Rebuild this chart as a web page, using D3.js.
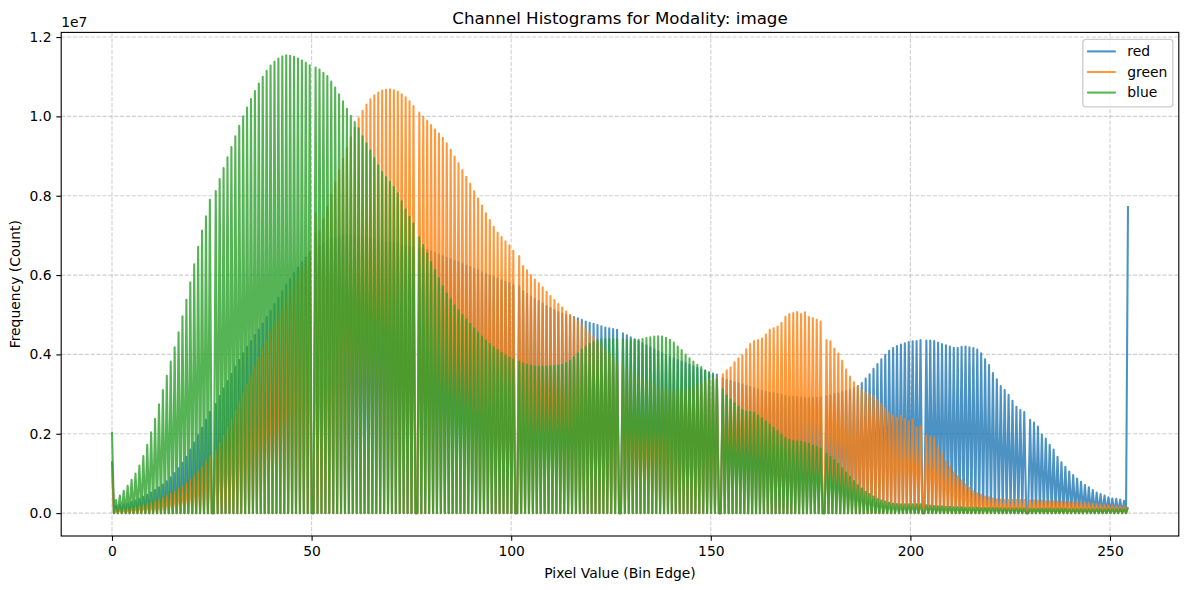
<!DOCTYPE html>
<html>
<head>
<meta charset="utf-8">
<script src="https://cdn.jsdelivr.net/npm/d3@7"></script>
<style>
body { margin: 0; background: #fff; }
svg text { font-family: "DejaVu Sans", sans-serif; fill: #000; }
</style>
</head>
<body>
<div id="svgDiv"></div>
<script>
//channel info
var channelNames = ["red", "green", "blue"];
var channelColors = ["#1f77b4", "#ff7f0e", "#2ca02c"];

// counts per pixel value 0..255, in millions
var redCounts = [
    1.31, 0.18, 0.2, 0.22, 0.25, 0.28, 0.32, 0.36, 0.41, 0.46, 0.52, 0.58, 0.65, 0.72, 0.8, 0.9,
    1.01, 1.13, 1.27, 1.42, 1.6, 1.78, 1.96, 2.15, 2.35, 2.55, 2.75, 2.95, 3.14, 3.33, 3.51, 3.69,
    3.86, 4.03, 4.19, 4.34, 4.49, 4.63, 4.78, 4.94, 5.1, 5.27, 5.43, 5.59, 5.75, 5.9, 6.05, 6.19,
    6.32, 6.44, 6.55, 7.05, 6.72, 6.79, 6.85, 6.9, 6.94, 6.97, 6.99, 7.0, 7.0, 6.99, 6.98, 6.96,
    6.94, 6.92, 6.9, 6.88, 6.86, 6.84, 6.82, 6.8, 6.78, 6.76, 6.74, 6.72, 6.7, 6.68, 6.66, 6.64,
    6.6, 6.56, 6.52, 6.48, 6.44, 6.4, 6.36, 6.32, 6.28, 6.24, 6.2, 6.16, 6.12, 6.07, 6.03, 5.99,
    5.95, 5.91, 5.87, 5.83, 5.79, 5.74, 5.72, 5.6, 5.53, 5.46, 5.4, 5.34, 5.28, 5.22, 5.17, 5.12,
    5.07, 5.03, 4.99, 4.96, 4.94, 4.91, 4.87, 4.83, 4.8, 4.77, 4.74, 4.71, 4.68, 4.66, 4.64, 4.62,
    4.53, 4.48, 4.43, 4.38, 4.33, 4.28, 4.23, 4.18, 4.13, 4.08, 4.03, 3.98, 3.94, 3.9, 3.86, 3.82,
    3.78, 3.74, 3.7, 3.66, 3.62, 3.58, 3.55, 3.52, 3.49, 3.4, 3.36, 3.33, 3.3, 3.27, 3.24, 3.21,
    3.18, 3.15, 3.12, 3.09, 3.06, 3.04, 3.02, 3.0, 2.98, 2.96, 2.94, 2.93, 2.92, 2.91, 2.9, 2.9,
    2.9, 2.9, 2.91, 2.94, 2.97, 3.0, 3.02, 3.05, 3.08, 3.11, 3.15, 3.2, 3.28, 3.39, 3.5, 3.64,
    3.76, 3.88, 3.99, 4.09, 4.16, 4.21, 4.25, 4.28, 4.31, 4.33, 4.34, 4.36, 4.35, 4.35, 4.34, 4.3,
    4.26, 4.23, 4.2, 4.17, 4.17, 4.19, 4.2, 4.18, 4.16, 4.12, 4.03, 3.88, 3.73, 3.53, 3.37, 3.2,
    3.1, 2.98, 2.83, 2.68, 2.6, 2.55, 2.35, 2.28, 2.18, 1.98, 1.88, 1.72, 1.6, 1.42, 1.28, 1.17,
    1.05, 0.96, 0.87, 0.79, 0.71, 0.65, 0.58, 0.52, 0.48, 0.44, 0.4, 0.37, 0.36, 0.34, 0.31, 7.74
];
var greenCounts = [
    1.1, 0.08, 0.09, 0.1, 0.11, 0.13, 0.15, 0.17, 0.2, 0.23, 0.26, 0.3, 0.34, 0.38, 0.43, 0.48,
    0.54, 0.6, 0.67, 0.75, 0.84, 0.94, 1.05, 1.17, 1.3, 1.43, 1.58, 1.76, 1.95, 2.15, 2.36, 2.58,
    2.8, 3.02, 3.24, 3.46, 3.68, 3.9, 4.12, 4.34, 4.56, 4.77, 4.98, 5.19, 5.4, 5.6, 5.8, 6.0,
    6.2, 6.4, 6.6, 7.56, 7.1, 7.4, 7.72, 8.03, 8.34, 8.64, 8.93, 9.2, 9.47, 9.72, 9.95, 10.14,
    10.3, 10.43, 10.53, 10.6, 10.65, 10.67, 10.68, 10.66, 10.62, 10.56, 10.48, 10.38, 10.26, 10.1, 9.99, 9.89,
    9.78, 9.67, 9.57, 9.46, 9.32, 9.16, 8.99, 8.82, 8.65, 8.48, 8.3, 8.11, 7.93, 7.75, 7.56, 7.39,
    7.22, 7.07, 6.96, 6.85, 6.75, 6.61, 6.48, 6.23, 6.12, 6.0, 5.89, 5.79, 5.69, 5.58, 5.47, 5.37,
    5.27, 5.18, 5.08, 5.0, 4.92, 4.84, 4.76, 4.66, 4.55, 4.44, 4.33, 4.22, 4.12, 4.02, 3.93, 3.84,
    3.75, 3.66, 3.58, 3.5, 3.43, 3.37, 3.31, 3.26, 3.21, 3.17, 3.13, 3.1, 3.08, 3.07, 3.07, 3.08,
    3.1, 3.13, 3.17, 3.21, 3.26, 3.31, 3.35, 3.39, 3.42, 3.5, 3.6, 3.67, 3.8, 3.9, 3.98, 4.13,
    4.26, 4.34, 4.36, 4.4, 4.5, 4.62, 4.66, 4.7, 4.8, 4.95, 5.02, 5.04, 5.07, 5.02, 5.06, 4.94,
    4.91, 4.87, 4.83, 4.36, 4.33, 4.15, 4.02, 3.84, 3.62, 3.44, 3.3, 3.2, 3.1, 3.05, 2.98, 2.95,
    2.86, 2.75, 2.64, 2.52, 2.45, 2.4, 2.45, 2.38, 2.3, 2.36, 2.16, 2.19, 1.95, 1.92, 1.9, 1.65,
    1.5, 1.3, 1.17, 1.02, 0.92, 0.82, 0.72, 0.63, 0.55, 0.5, 0.46, 0.42, 0.4, 0.37, 0.35, 0.34,
    0.33, 0.33, 0.33, 0.33, 0.33, 0.33, 0.32, 0.32, 0.31, 0.31, 0.3, 0.3, 0.3, 0.29, 0.29, 0.28,
    0.28, 0.27, 0.27, 0.26, 0.26, 0.25, 0.24, 0.23, 0.22, 0.21, 0.2, 0.19, 0.18, 0.17, 0.16, 0.15
];
var blueCounts = [
    2.05, 0.33, 0.44, 0.56, 0.69, 0.84, 1.0, 1.2, 1.44, 1.72, 2.04, 2.38, 2.74, 3.1, 3.46, 3.82,
    4.18, 4.56, 4.96, 5.38, 5.82, 6.27, 6.71, 7.12, 7.48, 7.9, 8.12, 8.42, 8.7, 8.97, 9.23, 9.5,
    9.76, 10.0, 10.22, 10.44, 10.64, 10.83, 11.0, 11.15, 11.28, 11.38, 11.46, 11.51, 11.54, 11.53, 11.5, 11.46,
    11.41, 11.35, 11.29, 11.23, 11.18, 11.1, 11.02, 10.88, 10.73, 10.56, 10.38, 10.19, 10.01, 9.86, 9.7, 9.5,
    9.32, 9.14, 8.95, 8.77, 8.6, 8.47, 8.35, 8.22, 8.06, 7.86, 7.65, 7.47, 7.3, 6.95, 6.76, 6.55,
    6.33, 6.13, 5.92, 5.72, 5.54, 5.39, 5.24, 5.11, 4.99, 4.88, 4.77, 4.66, 4.55, 4.45, 4.35, 4.26,
    4.18, 4.11, 4.04, 3.98, 3.92, 3.87, 3.82, 3.77, 3.74, 3.72, 3.7, 3.69, 3.69, 3.69, 3.7, 3.71,
    3.72, 3.74, 3.78, 3.84, 3.93, 4.03, 4.12, 4.2, 4.27, 4.32, 4.36, 4.38, 4.39, 4.39, 4.39, 4.39,
    4.38, 4.37, 4.36, 4.36, 4.37, 4.39, 4.41, 4.43, 4.45, 4.46, 4.45, 4.42, 4.37, 4.3, 4.2, 4.11,
    4.0, 3.9, 3.82, 3.74, 3.68, 3.6, 3.54, 3.47, 3.38, 3.12, 2.97, 2.87, 2.77, 2.68, 2.6, 2.56,
    2.55, 2.53, 2.46, 2.39, 2.31, 2.23, 2.15, 2.07, 1.98, 1.9, 1.85, 1.82, 1.81, 1.8, 1.78, 1.75,
    1.71, 1.67, 1.63, 1.5, 1.42, 1.34, 1.24, 1.13, 1.02, 0.92, 0.81, 0.71, 0.62, 0.54, 0.48, 0.42,
    0.36, 0.32, 0.29, 0.26, 0.24, 0.23, 0.22, 0.22, 0.22, 0.22, 0.22, 0.22, 0.2, 0.19, 0.18, 0.17,
    0.17, 0.16, 0.16, 0.15, 0.15, 0.15, 0.14, 0.14, 0.14, 0.14, 0.13, 0.13, 0.13, 0.13, 0.13, 0.12,
    0.12, 0.12, 0.12, 0.12, 0.12, 0.12, 0.11, 0.11, 0.11, 0.11, 0.11, 0.11, 0.11, 0.11, 0.11, 0.11,
    0.1, 0.1, 0.1, 0.1, 0.1, 0.1, 0.1, 0.1, 0.1, 0.1, 0.1, 0.1, 0.1, 0.1, 0.1, 0.14
];

var numBins = 520;   // histogram bins over 0..255
var xTicks = [0, 50, 100, 150, 200, 250];
var yTicks = [0, 2e6, 4e6, 6e6, 8e6, 10e6, 12e6];

var svgWidth = 1189, svgHeight = 590;
var plotLeft = 61.2, plotRight = 1178.8, plotTop = 32.4, plotBottom = 536;
var pt = 100 / 72;   // matplotlib points -> px

// puts every pixel value into its bin, empty bins stay at zero
function buildHistogram(counts) {
    var hist = new Array(numBins).fill(0);
    counts.forEach(function(c, v) {
        var b = Math.min(Math.floor(v * numBins / 255), numBins - 1);
        hist[b] += c * 1e6;
    });
    return hist.map(function(h, i) {
        return { x: i * 255 / numBins, y: h };
    });
}

var series = [redCounts, greenCounts, blueCounts].map(buildHistogram);

var xMin = d3.min(series[0], d => d.x), xMax = d3.max(series[0], d => d.x);
var yMin = 0, yMax = d3.max(series, s => d3.max(s, d => d.y));
var xPad = (xMax - xMin) * 0.05, yPad = (yMax - yMin) * 0.05;

var xScale = d3.scaleLinear()
    .domain([xMin - xPad, xMax + xPad])
    .range([plotLeft, plotRight]);
var yScale = d3.scaleLinear()
    .domain([yMin - yPad, yMax + yPad])
    .range([plotBottom, plotTop]);

var svg = d3.select("#svgDiv")
    .append("svg")
    .attr("width", svgWidth)
    .attr("height", svgHeight);

svg.append("defs").append("clipPath")
    .attr("id", "plotClip")
    .append("rect")
    .attr("x", plotLeft).attr("y", plotTop)
    .attr("width", plotRight - plotLeft)
    .attr("height", plotBottom - plotTop);

//grid
var grid = svg.append("g")
    .attr("stroke", "#b0b0b0")
    .attr("stroke-opacity", 0.6)
    .attr("stroke-width", 0.8 * pt)
    .attr("stroke-dasharray", (2.96 * pt) + "," + (1.28 * pt));
grid.selectAll(".vgrid").data(xTicks).enter().append("line")
    .attr("x1", d => xScale(d)).attr("x2", d => xScale(d))
    .attr("y1", plotTop).attr("y2", plotBottom);
grid.selectAll(".hgrid").data(yTicks).enter().append("line")
    .attr("y1", d => yScale(d)).attr("y2", d => yScale(d))
    .attr("x1", plotLeft).attr("x2", plotRight);

//histogram lines
var line = d3.line()
    .x(d => xScale(d.x))
    .y(d => yScale(d.y));

svg.append("g")
    .attr("clip-path", "url(#plotClip)")
    .selectAll("path")
    .data(series)
    .enter().append("path")
    .attr("d", line)
    .attr("fill", "none")
    .attr("stroke", (d, i) => channelColors[i])
    .attr("stroke-opacity", 0.8)
    .attr("stroke-width", 1.5 * pt)
    .attr("stroke-linejoin", "round");

//axes
var xAxis = d3.axisBottom(xScale)
    .tickValues(xTicks)
    .tickSize(3.5 * pt)
    .tickPadding(3.5 * pt)
    .tickFormat(d3.format("d"));
var yAxis = d3.axisLeft(yScale)
    .tickValues(yTicks)
    .tickSize(3.5 * pt)
    .tickPadding(3.5 * pt)
    .tickFormat(d => (d / 1e7).toFixed(1));

var gx = svg.append("g")
    .attr("transform", "translate(0," + plotBottom + ")")
    .call(xAxis);
var gy = svg.append("g")
    .attr("transform", "translate(" + plotLeft + ",0)")
    .call(yAxis);
[gx, gy].forEach(function(g) {
    g.select(".domain").remove();
    g.selectAll(".tick line").attr("stroke", "#000").attr("stroke-width", 0.8 * pt);
    g.selectAll(".tick text")
        .style("font-family", "DejaVu Sans, sans-serif")
        .style("font-size", "13.9px")
        .attr("fill", "#000");
});

svg.append("rect")
    .attr("x", plotLeft).attr("y", plotTop)
    .attr("width", plotRight - plotLeft)
    .attr("height", plotBottom - plotTop)
    .attr("fill", "none")
    .attr("stroke", "#000")
    .attr("stroke-width", 0.8 * pt);

//texts
svg.append("text")
    .attr("x", plotLeft).attr("y", 27)
    .style("font-size", "13.9px")
    .text("1e7");

svg.append("text")
    .attr("x", (plotLeft + plotRight) / 2).attr("y", 23.5)
    .attr("text-anchor", "middle")
    .style("font-size", "16.7px")
    .text("Channel Histograms for Modality: image");

svg.append("text")
    .attr("x", (plotLeft + plotRight) / 2).attr("y", 578)
    .attr("text-anchor", "middle")
    .style("font-size", "13.9px")
    .text("Pixel Value (Bin Edge)");

svg.append("text")
    .attr("transform", "translate(20," + ((plotTop + plotBottom) / 2) + ") rotate(-90)")
    .attr("text-anchor", "middle")
    .style("font-size", "13.9px")
    .text("Frequency (Count)");

//legend
var legend = svg.append("g")
    .attr("transform", "translate(" + (plotRight - 96) + "," + (plotTop + 7) + ")");
legend.append("rect")
    .attr("width", 90).attr("height", 67.5)
    .attr("rx", 2.8)
    .attr("fill", "#fff").attr("fill-opacity", 0.8)
    .attr("stroke", "#cccccc").attr("stroke-width", 1 * pt);
var items = legend.selectAll(".item")
    .data(channelNames)
    .enter().append("g")
    .attr("transform", (d, i) => "translate(0," + (12 + i * 20.6) + ")");
items.append("line")
    .attr("x1", 4.3).attr("x2", 33)
    .attr("stroke", (d, i) => channelColors[i])
    .attr("stroke-opacity", 0.8)
    .attr("stroke-width", 1.5 * pt);
items.append("text")
    .attr("x", 44.5).attr("dy", "0.35em")
    .style("font-size", "13.9px")
    .text(d => d);
</script>
</body>
</html>
